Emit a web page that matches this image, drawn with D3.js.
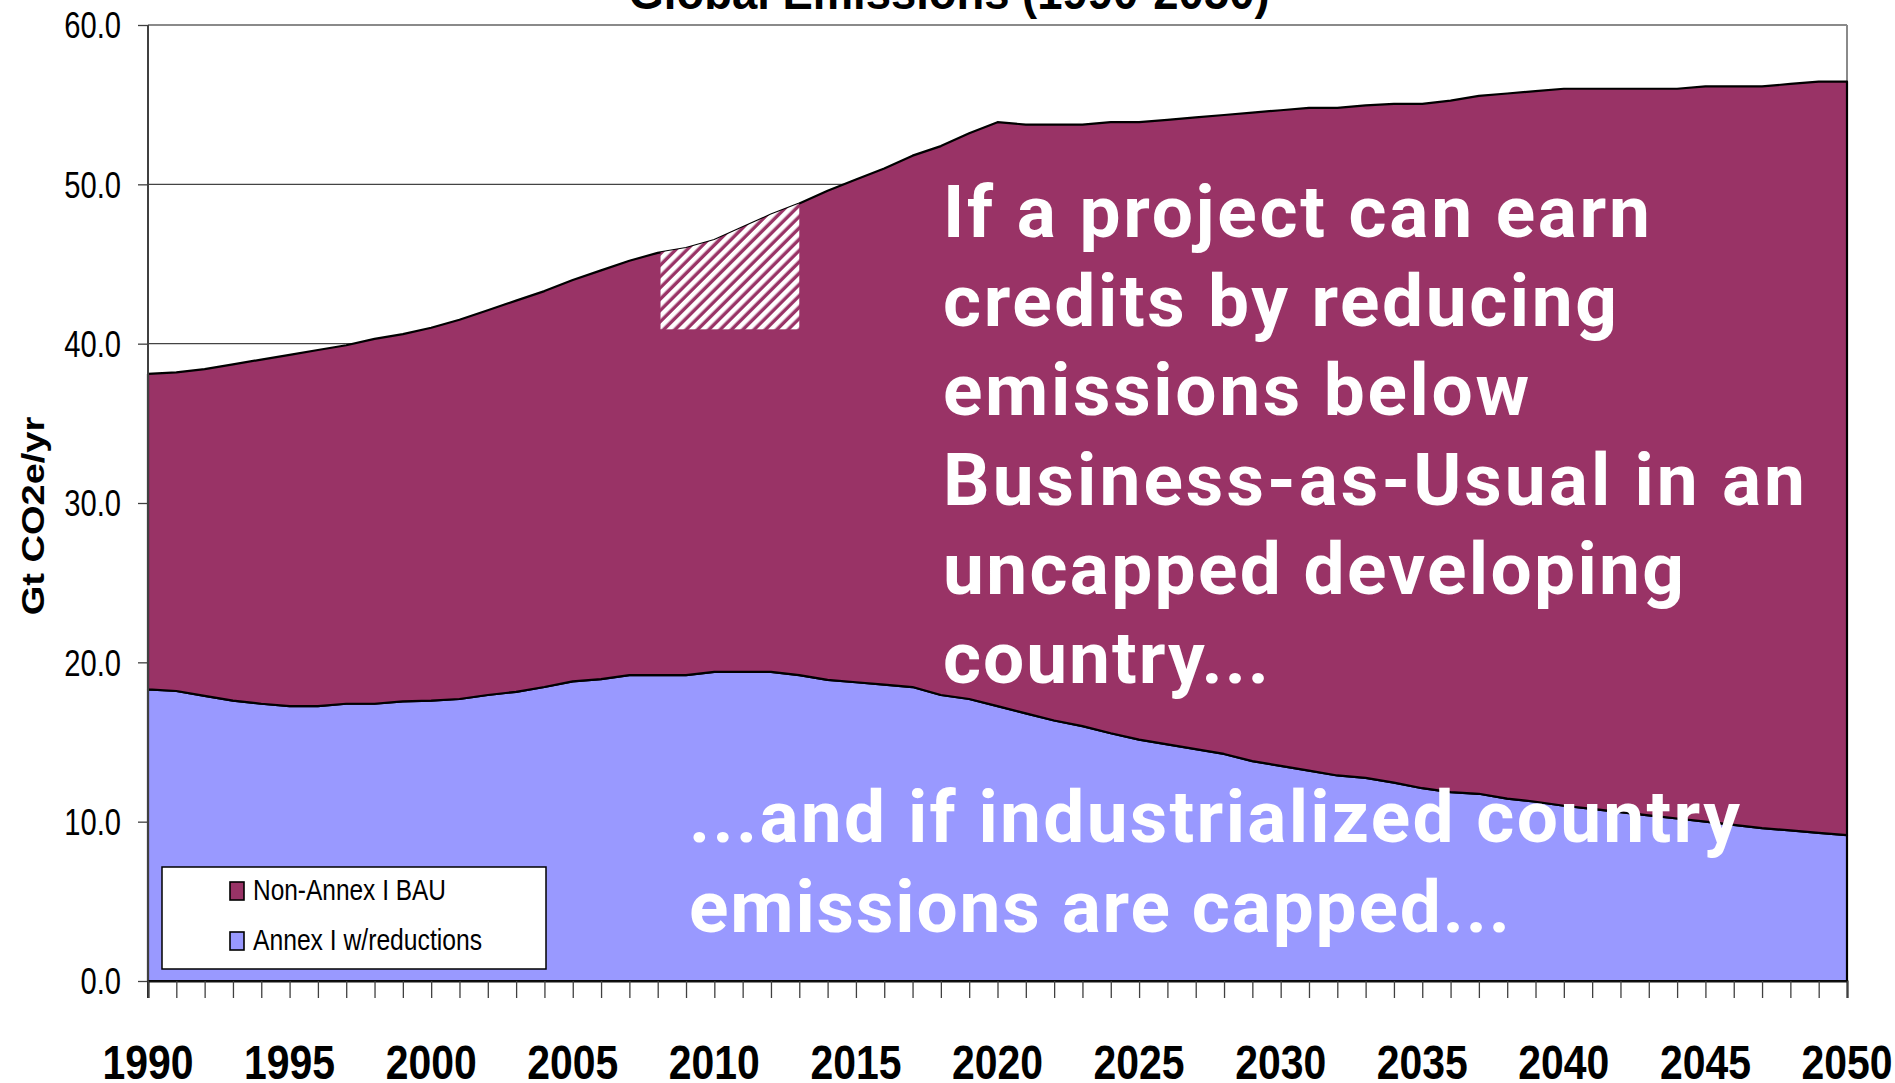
<!DOCTYPE html>
<html><head><meta charset="utf-8">
<script src="https://cdn.jsdelivr.net/npm/d3@7"></script>
<style>
body{margin:0;background:#fff;overflow:hidden}
svg{display:block}
</style>
</head><body>
<svg id="chart" width="1895" height="1083"></svg>
<script>
// ---------- DATA ----------
const years = [1990,1991,1992,1993,1994,1995,1996,1997,1998,1999,
  2000,2001,2002,2003,2004,2005,2006,2007,2008,2009,
  2010,2011,2012,2013,2014,2015,2016,2017,2018,2019,
  2020,2021,2022,2023,2024,2025,2026,2027,2028,2029,
  2030,2031,2032,2033,2034,2035,2036,2037,2038,2039,
  2040,2041,2042,2043,2044,2045,2046,2047,2048,2049,2050];

const annexI = [18.3,18.2,17.9,17.6,17.4,17.25,17.25,17.4,17.4,17.55,
  17.6,17.7,17.95,18.15,18.45,18.8,18.95,19.2,19.2,19.2,
  19.4,19.4,19.4,19.2,18.9,18.75,18.6,18.45,17.95,17.7,
  17.25,16.8,16.35,16.0,15.55,15.15,14.85,14.55,14.25,13.8,
  13.5,13.2,12.9,12.75,12.45,12.1,11.85,11.75,11.45,11.25,
  11.0,10.8,10.6,10.4,10.2,10.0,9.8,9.6,9.45,9.3,9.15];

const nonAnnexI = [19.8,20.0,20.5,21.1,21.6,22.05,22.35,22.5,22.9,23.05,
  23.4,23.8,24.15,24.55,24.85,25.2,25.65,26.0,26.5,26.8,
  27.1,27.9,28.7,29.6,30.7,31.55,32.4,33.35,34.45,35.5,
  36.65,36.95,37.4,37.75,38.35,38.75,39.2,39.65,40.1,40.7,
  41.15,41.6,41.9,42.2,42.6,42.95,43.4,43.8,44.25,44.6,
  45.0,45.2,45.4,45.6,45.8,46.15,46.35,46.55,46.85,47.15,47.3];

const seriesNames = ["Annex I w/reductions", "Non-Annex I BAU"];
const seriesColors = ["#9999FF", "#993366"];
const yTicks = [0,10,20,30,40,50,60];
const xLabelYears = [1990,1995,2000,2005,2010,2015,2020,2025,2030,2035,2040,2045,2050];
const hatchYears = [2008.1, 2013];
const hatchFloor = 40.9;
const titleText = "Global Emissions (1990-2050)";
const yLabelText = "Gt CO2e/yr";
const noteTop = ["If a project can earn","credits by reducing","emissions below",
  "Business-as-Usual in an","uncapped developing","country..."];
const noteBottom = ["...and if industrialized country","emissions are capped..."];

// ---------- LAYOUT ----------
const L = 148, R = 1847, T = 25, B = 981;
const svg = d3.select("#chart");
const x = d3.scaleLinear().domain([1990, 2050]).range([L, R]);
const y = d3.scaleLinear().domain([0, 60]).range([B, T]);

function squish(sel, k){
  sel.each(function(){
    const w = this.getComputedTextLength();
    d3.select(this).attr("textLength", w*k).attr("lengthAdjust","spacingAndGlyphs");
  });
}

// defs
const defs = svg.append("defs");
const pat = defs.append("pattern").attr("id","hatch")
  .attr("patternUnits","userSpaceOnUse").attr("width",8).attr("height",8)
  .attr("patternTransform","rotate(45)");
pat.append("rect").attr("width",8).attr("height",8).attr("fill","#993366");
pat.append("rect").attr("width",4.6).attr("height",8).attr("fill","#ffffff");

// gridlines
svg.append("g").selectAll("line").data(yTicks.filter(v=>v>0 && v<60)).join("line")
  .attr("x1",L).attr("x2",R).attr("y1",d=>y(d)).attr("y2",d=>y(d))
  .attr("stroke","#444").attr("stroke-width",1.3);
// plot border top/right
svg.append("line").attr("x1",L).attr("x2",R).attr("y1",y(60)).attr("y2",y(60))
  .attr("stroke","#8a8a8a").attr("stroke-width",2);
svg.append("line").attr("x1",R).attr("x2",R).attr("y1",y(60)).attr("y2",B)
  .attr("stroke","#8a8a8a").attr("stroke-width",2);

// stacked areas
const rows = years.map((yr,i)=>({year:yr, a:annexI[i], n:nonAnnexI[i]}));
const stack = d3.stack().keys(["a","n"])(rows);
const area = d3.area().x(d=>x(d.data.year)).y0(d=>y(d[0])).y1(d=>y(d[1]));
svg.append("g").selectAll("path").data(stack).join("path")
  .attr("d", area)
  .attr("fill",(d,i)=>seriesColors[i])
  .attr("stroke","#000").attr("stroke-width",2.2).attr("stroke-linejoin","round");

// hatch area clipped under total line
const topArea = d3.area().x(d=>x(d.data.year)).y0(B).y1(d=>y(d[1]));
defs.append("clipPath").attr("id","underTop").append("path").attr("d", topArea(stack[1]));
svg.append("rect")
  .attr("x", x(hatchYears[0])).attr("width", x(hatchYears[1]) - x(hatchYears[0]))
  .attr("y", y(60)).attr("height", y(hatchFloor) - y(60))
  .attr("fill","url(#hatch)").attr("clip-path","url(#underTop)");

// y axis
const yAxis = svg.append("g").attr("transform",`translate(${L},0)`)
  .call(d3.axisLeft(y).tickValues(yTicks).tickFormat(d3.format(".1f")).tickSize(10).tickPadding(17));
yAxis.select(".domain").remove();
yAxis.selectAll(".tick line").attr("stroke","#404040").attr("stroke-width",1.3);
yAxis.selectAll("text").attr("font-family","'Liberation Sans',Arial,sans-serif")
  .attr("font-size",36).attr("fill","#000").attr("dy","0.36em");
squish(yAxis.selectAll("text"), 0.81);
svg.append("line").attr("x1",L).attr("x2",L).attr("y1",T).attr("y2",B+17)
  .attr("stroke","#404040").attr("stroke-width",2);

// x axis
const xAxis = svg.append("g").attr("transform",`translate(0,${B})`)
  .call(d3.axisBottom(x).tickValues(years).tickSize(17).tickFormat(""));
xAxis.select(".domain").attr("stroke","#111").attr("stroke-width",2);
xAxis.selectAll(".tick line").attr("stroke","#404040").attr("stroke-width",1.3);
const xl = svg.append("g").selectAll("text").data(xLabelYears).join("text")
  .attr("x", d=>x(d)).attr("y", 1079).attr("text-anchor","middle")
  .attr("font-family","'Liberation Sans',Arial,sans-serif").attr("font-weight","bold")
  .attr("font-size",49).attr("fill","#000").text(d=>d);
xl.attr("textLength",91).attr("lengthAdjust","spacingAndGlyphs");

// title (mostly cut off at top)
const tt = svg.append("text").attr("x",949).attr("y",9).attr("text-anchor","middle")
  .attr("font-family","'Liberation Sans',Arial,sans-serif").attr("font-weight","bold")
  .attr("font-size",48).attr("fill","#000").text(titleText);
tt.attr("textLength",641).attr("lengthAdjust","spacingAndGlyphs");

// y label
svg.append("text").attr("transform","translate(33,516) rotate(-90) scale(1,0.82)")
  .attr("text-anchor","middle").attr("dominant-baseline","central")
  .attr("font-family","'Liberation Sans',Arial,sans-serif").attr("font-weight","bold")
  .attr("font-size",38).attr("fill","#000").text(yLabelText);

// legend
const lg = svg.append("g");
lg.append("rect").attr("x",162).attr("y",867).attr("width",384).attr("height",102)
  .attr("fill","#fff").attr("stroke","#000").attr("stroke-width",1.5);
const legendOrder = [1,0];
const legendW = [193,229];
legendOrder.forEach((si,j)=>{
  const yy = 882 + j*50;
  lg.append("rect").attr("x",230).attr("y",yy).attr("width",14).attr("height",18)
    .attr("fill",seriesColors[si]).attr("stroke","#000").attr("stroke-width",1.6);
  lg.append("text").attr("x",253).attr("y",yy+18)
    .attr("font-family","'Liberation Sans',Arial,sans-serif").attr("font-size",29)
    .attr("fill","#000").attr("textLength",legendW[j]).attr("lengthAdjust","spacingAndGlyphs")
    .text(seriesNames[si]);
});

// annotations
const topW = [707,674,586,862,741,326];
svg.append("g").selectAll("text").data(noteTop).join("text")
  .attr("x",943).attr("y",(d,i)=>237 + i*89.2)
  .attr("font-family","Roboto,'Open Sans',sans-serif").attr("font-weight",700)
  .attr("font-size",73).attr("fill","#fff")
  .attr("textLength",(d,i)=>topW[i]).attr("lengthAdjust","spacing")
  .text(d=>d);
const botW = [1051,821];
svg.append("g").selectAll("text").data(noteBottom).join("text")
  .attr("x",689).attr("y",(d,i)=>842 + i*89.5)
  .attr("font-family","Roboto,'Open Sans',sans-serif").attr("font-weight",700)
  .attr("font-size",73).attr("fill","#fff")
  .attr("textLength",(d,i)=>botW[i]).attr("lengthAdjust","spacing")
  .text(d=>d);
</script>
</body></html>
